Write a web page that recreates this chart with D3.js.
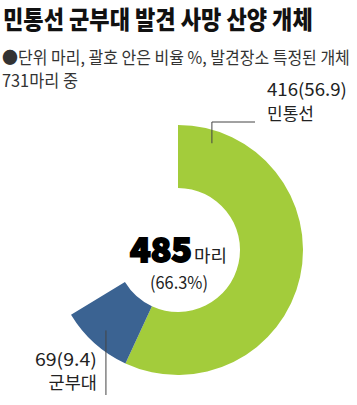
<!DOCTYPE html>
<html>
<head>
<meta charset="utf-8">
<script src="https://cdn.jsdelivr.net/npm/d3@7"></script>
<style>
  html, body { margin: 0; padding: 0; background: #fff; }
  svg { display: block; }
  text { font-family: "Noto Sans CJK KR", "Noto Sans", sans-serif; fill: #222; }
</style>
</head>
<body>
<script>
// Dead goral found at military sites near the civilian control line
const categories = ["민통선", "군부대"];
const values = [416, 69];
const percents = [56.9, 9.4];
const colors = ["#a3cc3b", "#3b6392"];
const totalFound = 731;
const sumLabel = "485";
const sumPercent = "(66.3%)";

const titleText = "민통선 군부대 발견 사망 산양 개체";
const noteLine1 = "●단위  마리, 괄호 안은 비율 %, 발견장소 특정된 개체";
const noteLine2 = "731마리 중";

const W = 357, H = 405;
const svg = d3.select("body").append("svg").attr("width", W).attr("height", H);

// Text squeezed horizontally to a given width (condensed newspaper face)
function fitText(x, y, str, width, attrs) {
  const grp = svg.append("g");
  const t = grp.append("text").attr("x", 0).attr("y", 0).text(str);
  Object.entries(attrs).forEach(([k, v]) => t.attr(k, v));
  const natural = t.node().getComputedTextLength();
  grp.attr("transform", `translate(${x},${y}) scale(${width / natural},1)`);
  return t;
}

// Heading and note
fitText(3, 29, titleText, 310, { "font-size": 25, "font-weight": 900 }).style("fill", "#111");
fitText(2, 64, noteLine1, 348, { "font-size": 17 }).style("fill", "#333");
fitText(2, 87, noteLine2, 76, { "font-size": 17 }).style("fill", "#333");

// Donut: only the sites with a known location share of the 731 total
const cx = 178, cy = 250, rOuter = 125, rInner = 62;
const shareOfTotal = d3.sum(values) / totalFound;
const pie = d3.pie().sort(null).startAngle(0).endAngle(2 * Math.PI * shareOfTotal);
const arcs = pie(values);
const arc = d3.arc().innerRadius(rInner).outerRadius(rOuter);

const g = svg.append("g").attr("transform", `translate(${cx},${cy})`);
g.selectAll("path.slice").data(arcs).join("path")
  .attr("class", "slice")
  .attr("d", arc)
  .attr("fill", (d, i) => colors[i]);

// Leader lines and labels
const lineColor = "#444";
const numFont = { "font-size": 17.5, "font-family": "Roboto, 'Noto Sans', sans-serif" };
// 민통선 label: elbow from inside the slice to the upper right
{
  const a = arcs[0].startAngle + (arcs[0].endAngle - arcs[0].startAngle) * 0.086;
  const p = d3.pointRadial(a, 112);
  const px = cx + p[0], py = cy + p[1];
  const elbowY = 122;
  svg.append("path")
    .attr("d", `M${px},${py}V${elbowY}H${255}`)
    .attr("fill", "none").attr("stroke", lineColor).attr("stroke-width", 1);
  fitText(267, 96, `${values[0]}(${percents[0]})`, 80, numFont);
  svg.append("text").attr("x", 267).attr("y", 120).attr("font-size", 17)
    .text(categories[0]);
}
// 군부대 label: vertical drop from the slice middle
{
  const a = (arcs[1].startAngle + arcs[1].endAngle) / 2;
  const p = d3.pointRadial(a, 108);
  const px = cx + p[0], py = cy + p[1];
  svg.append("path")
    .attr("d", `M${px},${py}V${395}`)
    .attr("fill", "none").attr("stroke", lineColor).attr("stroke-width", 1);
  fitText(px - 9 - 62, 366, `${values[1]}(${percents[1]})`, 62, numFont);
  svg.append("text").attr("x", px - 9).attr("y", 389).attr("font-size", 17.5)
    .attr("text-anchor", "end")
    .text(categories[1]);
}

// Centre total
fitText(130, 262, sumLabel, 62, {
  "font-family": "Lato, 'Noto Sans', sans-serif",
  "font-weight": 900, "font-size": 33
}).style("fill", "#000").style("stroke", "#000").style("stroke-width", 1.8);
fitText(194, 262, "마리", 33, { "font-size": 17 });
fitText(150, 289, sumPercent, 58, numFont);
</script>
</body>
</html>
